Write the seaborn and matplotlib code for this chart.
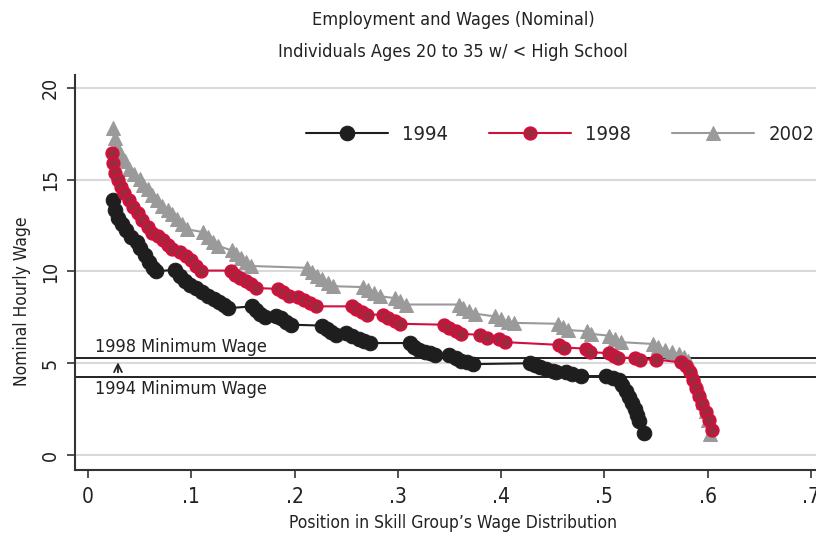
import pandas as pd
import matplotlib
matplotlib.use("Agg")
import matplotlib.pyplot as plt
import seaborn as sns

# 1994 series
x_1994 = [0.024, 0.026, 0.029, 0.033, 0.037, 0.042, 0.047, 0.050, 0.055, 0.059, 0.063, 0.066,
          0.084, 0.089, 0.094, 0.099, 0.105, 0.110, 0.116, 0.122, 0.127, 0.132, 0.136,
          0.159, 0.163, 0.167, 0.171, 0.182, 0.187, 0.192, 0.197,
          0.227, 0.231, 0.235, 0.240, 0.250, 0.256, 0.262, 0.267, 0.273,
          0.312, 0.316, 0.321, 0.326, 0.331, 0.336, 0.350, 0.356, 0.361, 0.367, 0.373,
          0.428, 0.433, 0.438, 0.444, 0.450, 0.453, 0.463, 0.469, 0.477,
          0.502, 0.508, 0.514, 0.517, 0.521, 0.524, 0.527, 0.530, 0.532, 0.534, 0.538]
y_1994 = [13.9, 13.35, 12.9, 12.6, 12.25, 11.9, 11.6, 11.3, 10.9, 10.5, 10.2, 10.0,
          10.1, 9.75, 9.5, 9.25, 9.1, 8.9, 8.65, 8.5, 8.35, 8.2, 8.0,
          8.1, 7.9, 7.7, 7.5, 7.6, 7.45, 7.25, 7.1,
          7.05, 6.85, 6.7, 6.55, 6.65, 6.5, 6.3, 6.2, 6.1,
          6.1, 5.9, 5.7, 5.6, 5.55, 5.45, 5.45, 5.3, 5.1, 5.05, 4.95,
          5.0, 4.9, 4.8, 4.7, 4.6, 4.5, 4.5, 4.4, 4.3,
          4.3, 4.2, 4.1, 3.8, 3.5, 3.15, 2.85, 2.5, 2.2, 1.85, 1.2]

# 1998 series
x_1998 = [0.023, 0.024, 0.026, 0.029, 0.032, 0.035, 0.040, 0.044, 0.048, 0.052, 0.058, 0.062,
          0.068, 0.073, 0.077, 0.081, 0.089, 0.095, 0.100, 0.105, 0.109,
          0.138, 0.142, 0.147, 0.153, 0.158, 0.163, 0.184, 0.189, 0.195,
          0.203, 0.209, 0.215, 0.221,
          0.256, 0.260, 0.265, 0.270, 0.286, 0.291, 0.297, 0.302,
          0.345, 0.350, 0.356, 0.361, 0.380, 0.386, 0.398, 0.404,
          0.456, 0.461, 0.482, 0.486, 0.505, 0.509, 0.513, 0.530, 0.535,
          0.550, 0.574, 0.579, 0.583, 0.586, 0.589, 0.592, 0.595, 0.598, 0.601, 0.604]
y_1998 = [16.45, 15.9, 15.35, 15.0, 14.6, 14.3, 13.9, 13.5, 13.2, 12.8, 12.4, 12.1,
          11.95, 11.7, 11.45, 11.2, 11.05, 10.85, 10.6, 10.3, 10.05,
          10.05, 9.8, 9.65, 9.5, 9.3, 9.1, 9.05, 8.9, 8.65,
          8.6, 8.45, 8.3, 8.1,
          8.1, 7.95, 7.8, 7.65, 7.65, 7.45, 7.3, 7.15,
          7.1, 6.9, 6.75, 6.6, 6.55, 6.4, 6.3, 6.15,
          6.0, 5.85, 5.8, 5.6, 5.55, 5.4, 5.3, 5.3, 5.2,
          5.2, 5.05, 4.85, 4.5, 4.1, 3.65, 3.2, 2.8, 2.35, 1.9, 1.35]

# 2002 series
x_2002 = [0.024, 0.026, 0.028, 0.032, 0.036, 0.040, 0.045, 0.050, 0.053, 0.058, 0.062, 0.067,
          0.072, 0.077, 0.081, 0.086, 0.091, 0.096, 0.111, 0.116, 0.121, 0.126,
          0.139, 0.143, 0.148, 0.153, 0.158,
          0.212, 0.217, 0.222, 0.227, 0.232, 0.237,
          0.266, 0.271, 0.277, 0.283, 0.297, 0.302, 0.308,
          0.359, 0.363, 0.369, 0.375, 0.394, 0.400, 0.407, 0.413,
          0.455, 0.460, 0.465, 0.483, 0.487, 0.505, 0.510, 0.516,
          0.547, 0.552, 0.559, 0.566, 0.572, 0.577, 0.581, 0.584, 0.587, 0.590,
          0.593, 0.596, 0.598, 0.600, 0.602]
y_2002 = [17.8, 17.3, 16.8, 16.35, 16.0, 15.6, 15.3, 15.05, 14.7, 14.5, 14.15, 13.9,
          13.55, 13.35, 13.15, 12.85, 12.6, 12.3, 12.15, 11.9, 11.6, 11.4,
          11.15, 10.95, 10.75, 10.5, 10.3,
          10.2, 9.95, 9.75, 9.6, 9.35, 9.2,
          9.15, 9.0, 8.85, 8.65, 8.55, 8.4, 8.2,
          8.2, 8.0, 7.85, 7.7, 7.55, 7.4, 7.25, 7.2,
          7.15, 7.0, 6.8, 6.75, 6.6, 6.5, 6.3, 6.15,
          6.05, 5.9, 5.7, 5.6, 5.5, 5.35, 5.1, 4.75, 4.3, 3.85,
          3.4, 2.9, 2.4, 1.9, 1.15]

min_wage_1998 = 5.3
min_wage_1994 = 4.25

sns.set_style("white")
plt.rcParams["font.family"] = ["DejaVu Sans"]
plt.rcParams["font.stretch"] = "condensed"

fig = plt.figure(figsize=(8.16, 5.38), dpi=100)
ax = fig.add_axes([75 / 816, 68 / 538, 741 / 816, 395 / 538])

for yv in [0, 5, 10, 15, 20]:
    ax.axhline(yv, color="#d9d9d9", lw=1.5, zorder=0)

ax.axhline(min_wage_1998, color="#222222", lw=1.4, zorder=1)
ax.axhline(min_wage_1994, color="#222222", lw=1.4, zorder=1)

df94 = pd.DataFrame({"x": x_1994, "y": y_1994})
df98 = pd.DataFrame({"x": x_1998, "y": y_1998})
df02 = pd.DataFrame({"x": x_2002, "y": y_2002})

sns.lineplot(data=df94, x="x", y="y", ax=ax, sort=False, estimator=None,
             color="#1e1e1e", lw=1.5, marker="o", markersize=10.5,
             markerfacecolor="#1e1e1e", markeredgecolor="#1e1e1e", label="1994", zorder=3)
sns.lineplot(data=df98, x="x", y="y", ax=ax, sort=False, estimator=None,
             color="#d2103c", lw=1.5, marker="o", markersize=8.5, markeredgewidth=1.8,
             markerfacecolor="#9b2a3e", markeredgecolor="#d2103c", label="1998", zorder=4)
sns.lineplot(data=df02, x="x", y="y", ax=ax, sort=False, estimator=None,
             color="#9a9a9a", lw=1.5, marker="^", markersize=10,
             markerfacecolor="#9a9a9a", markeredgecolor="#9a9a9a", label="2002", zorder=2)

ax.text(0.007, min_wage_1998 + 0.1, "1998 Minimum Wage", fontsize=13, color="#222222",
        ha="left", va="bottom")
ax.text(0.007, min_wage_1994 - 0.15, "1994 Minimum Wage", fontsize=13, color="#222222",
        ha="left", va="top")
ax.annotate("", xy=(0.029, 5.2), xytext=(0.029, 4.35),
            arrowprops=dict(arrowstyle="->", color="#222222", lw=1.3, mutation_scale=14))

ax.set_xlim(-0.0126, 0.705)
ax.set_ylim(-0.82, 20.71)
ax.set_xticks([0, 0.1, 0.2, 0.3, 0.4, 0.5, 0.6, 0.7])
ax.set_xticklabels(["0", ".1", ".2", ".3", ".4", ".5", ".6", ".7"], fontsize=15)
ax.set_yticks([0, 5, 10, 15, 20])
ax.set_yticklabels(["0", "5", "10", "15", "20"], fontsize=14, rotation=90, va="center")
ax.tick_params(axis="both", direction="out", length=6, width=1.2, color="#333333",
               labelcolor="#222222", left=True, bottom=True)
ax.tick_params(axis="y", pad=5)
ax.tick_params(axis="x", pad=6)

for side in ["top", "right"]:
    ax.spines[side].set_visible(False)
for side in ["left", "bottom"]:
    ax.spines[side].set_color("#333333")
    ax.spines[side].set_linewidth(1.5)

ax.set_xlabel("")
ax.set_ylabel("")
fig.text(22 / 816, 1 - 301 / 538, "Nominal Hourly Wage", rotation=90, fontsize=12.5,
         ha="center", va="center", color="#222222")
fig.text(453 / 816, 1 - 523 / 538, "Position in Skill Group\u2019s Wage Distribution",
         fontsize=12.5, ha="center", va="center", color="#222222")
fig.text(453 / 816, 1 - 20 / 538, "Employment and Wages (Nominal)", fontsize=13,
         ha="center", va="center", color="#222222")
fig.text(453 / 816, 1 - 52 / 538, "Individuals Ages 20 to 35 w/ < High School", fontsize=13,
         ha="center", va="center", color="#222222")

ax.legend(loc="center", bbox_to_anchor=(560 / 816, 1 - 135 / 538),
          bbox_transform=fig.transFigure, ncol=3, frameon=False, fontsize=14.5,
          handlelength=4.1, handletextpad=0.7, columnspacing=2.0)

fig.savefig("out.png", dpi=100)
